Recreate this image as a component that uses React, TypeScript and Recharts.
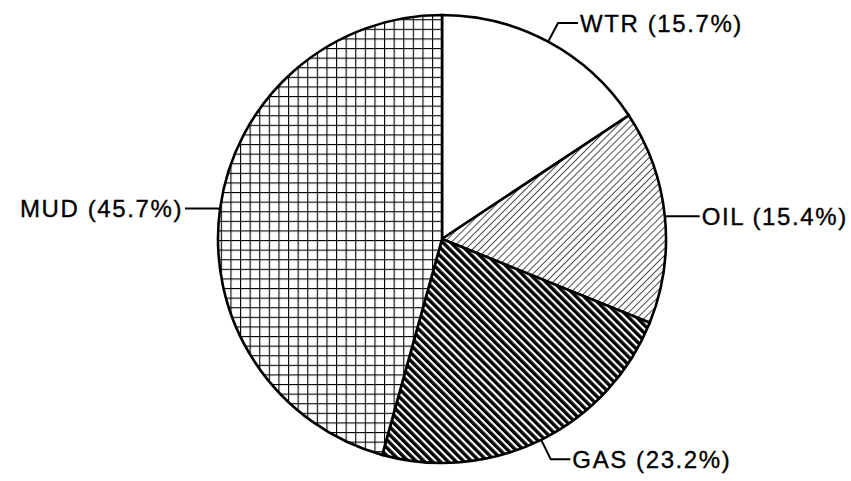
import React from "react";
import { PieChart, Pie, Cell } from "recharts";

const categories = ["WTR", "OIL", "GAS", "MUD"];
const shares = [15.7, 15.4, 23.2, 45.7];
const fills = ["#ffffff", "url(#hatchOil)", "url(#hatchGas)", "url(#gridMud)"];

const data = categories.map((name, i) => ({ name, value: shares[i] }));

const RAD = Math.PI / 180;
const FONT = "'Liberation Sans', Arial, Helvetica, sans-serif";

const renderLabel = (props: any) => {
  const { cx, cy, midAngle, outerRadius, name, value } = props;
  const c = Math.cos(midAngle * RAD);
  const s = Math.sin(midAngle * RAD);
  const sx = cx + outerRadius * c;
  const sy = cy - outerRadius * s;
  const ext = 24 * Math.abs(s);
  const ex = cx + (outerRadius + ext) * c;
  const ey = cy - (outerRadius + ext) * s;
  const dir = c >= 0 ? 1 : -1;
  const hl = 18 + 16 * (1 - Math.abs(s));
  const hx = ex + dir * hl;
  return (
    <g>
      <path
        d={`M${sx},${sy}L${ex},${ey}L${hx},${ey}`}
        stroke="#000"
        strokeWidth={2}
        fill="none"
      />
      <text
        x={hx + dir * 2}
        y={ey}
        textAnchor={dir > 0 ? "start" : "end"}
        dominantBaseline="central"
        fontFamily={FONT}
        fontSize={24}
        letterSpacing={1.6}
        fill="#000"
        stroke="#000"
        strokeWidth={0.35}
      >
        {`${name} (${Number(value).toFixed(1)}%)`}
      </text>
    </g>
  );
};

export default function App() {
  return (
    <div style={{ position: "absolute", left: 0, top: 0, background: "#fff" }}>
      <PieChart width={851} height={481} margin={{ top: 0, right: 0, bottom: 0, left: 0 }}>
        <defs>
          <pattern id="hatchOil" patternUnits="userSpaceOnUse" width="5" height="5" patternTransform="rotate(45)">
            <rect width="5" height="5" fill="#fff" />
            <line x1="0" y1="0" x2="0" y2="5" stroke="#000" strokeWidth="1.4" />
          </pattern>
          <pattern id="hatchGas" patternUnits="userSpaceOnUse" width="5.6" height="5.6" patternTransform="rotate(-45)">
            <rect width="5.6" height="5.6" fill="#fff" />
            <rect x="0" y="0" width="3.4" height="5.6" fill="#000" />
          </pattern>
          <pattern id="gridMud" patternUnits="userSpaceOnUse" width="9.6" height="9.6">
            <rect width="9.6" height="9.6" fill="#fff" />
            <line x1="0" y1="0" x2="9.6" y2="0" stroke="#000" strokeWidth="2.2" />
            <line x1="0" y1="0" x2="0" y2="9.6" stroke="#000" strokeWidth="2.2" />
          </pattern>
        </defs>
        <Pie
          data={data}
          dataKey="value"
          nameKey="name"
          cx={442}
          cy={239}
          outerRadius={224}
          startAngle={90}
          endAngle={-270}
          stroke="#000"
          strokeWidth={2.6}
          label={renderLabel}
          labelLine={false}
          isAnimationActive={false}
        >
          {data.map((d, i) => (
            <Cell key={d.name} fill={fills[i]} />
          ))}
        </Pie>
      </PieChart>
    </div>
  );
}
